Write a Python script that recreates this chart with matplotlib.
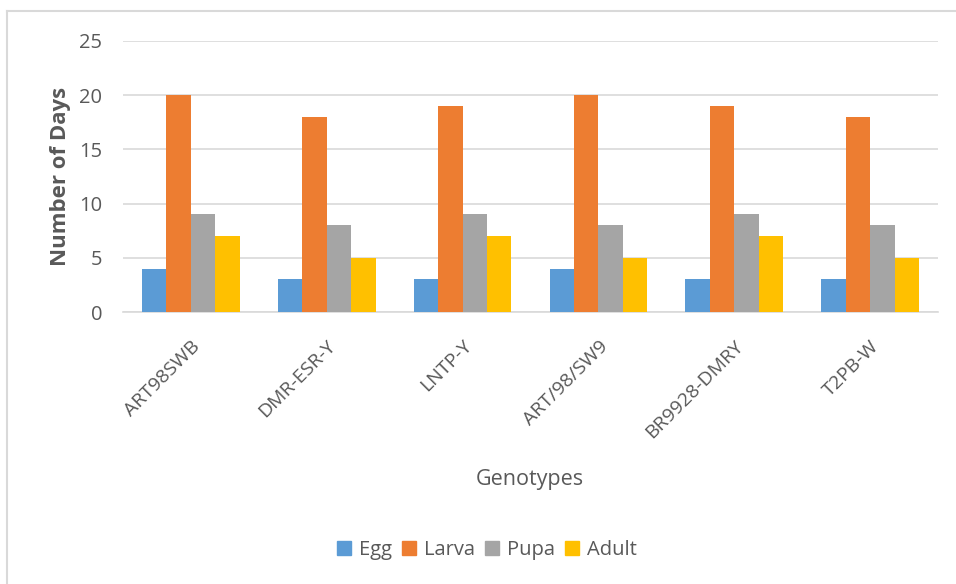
import matplotlib
matplotlib.use("Agg")
import matplotlib.pyplot as plt
from matplotlib.lines import Line2D
import numpy as np

plt.rcParams['font.family'] = ['Open Sans', 'DejaVu Sans']

genotypes = ["ART98SWB", "DMR-ESR-Y", "LNTP-Y", "ART/98/SW9", "BR9928-DMRY", "T2PB-W"]
stages = ["Egg", "Larva", "Pupa", "Adult"]
egg = [4, 3, 3, 4, 3, 3]
larva = [20, 18, 19, 20, 19, 18]
pupa = [9, 8, 9, 8, 9, 8]
adult = [7, 5, 7, 5, 7, 5]
y_ticks = [0, 5, 10, 15, 20, 25]

series = [egg, larva, pupa, adult]
colors = ["#5B9BD5", "#ED7D31", "#A5A5A5", "#FFC000"]
text_color = "#595959"

fig = plt.figure(figsize=(9.56, 5.84), dpi=100)
ax = fig.add_axes([123 / 956, 1 - 312 / 584, (938 - 123) / 956, (312 - 41) / 584])

x = np.arange(len(genotypes))
bw = 0.18
for i, (vals, c, name) in enumerate(zip(series, colors, stages)):
    ax.bar(x + (i - 1.5) * bw, vals, width=bw, color=c, label=name, zorder=3)

ax.set_xlim(-0.5, len(genotypes) - 0.5)
ax.set_ylim(0, 25)
ax.set_yticks(y_ticks)
ax.yaxis.grid(True, color="#D9D9D9", linewidth=1.2, zorder=0)
for s in ["top", "right", "left"]:
    ax.spines[s].set_visible(False)
ax.spines["bottom"].set_color("#D9D9D9")
ax.spines["bottom"].set_linewidth(1.2)
ax.tick_params(axis="both", length=0, colors=text_color)
ax.tick_params(axis="y", labelsize=14.5, pad=15)
ax.set_xticks(x)
ax.set_xticklabels(genotypes, rotation=45, ha="right", rotation_mode="anchor",
                   fontsize=14, color=text_color)
ax.tick_params(axis="x", pad=18)

ax.set_ylabel("Number of Days", fontsize=16, fontweight="bold", color=text_color, labelpad=6)
fig.text(530 / 956, 1 - 480 / 584, "Genotypes", ha="center", va="center",
         fontsize=15.5, color=text_color)

handles = [plt.Rectangle((0, 0), 1, 1, color=c) for c in colors]
fig.legend(handles, stages, loc="center", bbox_to_anchor=(487 / 956, 1 - 550 / 584),
           ncol=4, frameon=False, fontsize=14.5, handlelength=0.7, handleheight=0.7,
           handletextpad=0.4, columnspacing=0.5, labelcolor=text_color)

# chart area frame (top and left edges)
fig.add_artist(Line2D([7 / 956, 7 / 956], [0, 1 - 11 / 584], transform=fig.transFigure,
                      color="#D9D9D9", linewidth=1.5))
fig.add_artist(Line2D([7 / 956, 1], [1 - 11 / 584, 1 - 11 / 584], transform=fig.transFigure,
                      color="#D9D9D9", linewidth=1.5))

fig.savefig("out.png", dpi=100, facecolor="white")
